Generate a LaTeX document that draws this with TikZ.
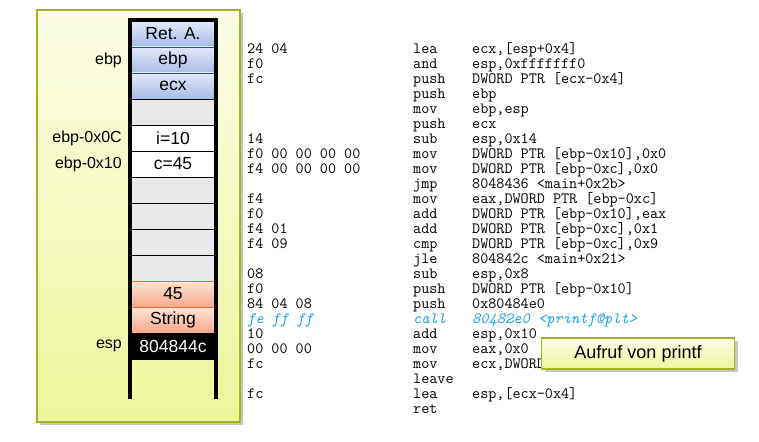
\documentclass[tikz,border=0pt]{standalone}
\usepackage{fontspec}
\setmainfont{Liberation Sans}
\usetikzlibrary{positioning,shadows}

\definecolor{panelline}{RGB}{165,178,35}
\definecolor{paneltop}{RGB}{252,253,230}
\definecolor{panelbot}{RGB}{237,246,155}
\definecolor{stackblue}{RGB}{35,80,140}
\definecolor{bluetop}{RGB}{226,233,249}
\definecolor{bluebot}{RGB}{168,188,232}
\definecolor{stackred}{RGB}{232,112,35}
\definecolor{redtop}{RGB}{253,230,218}
\definecolor{redbot}{RGB}{246,168,138}
\definecolor{freecell}{RGB}{233,233,233}
\definecolor{callblue}{RGB}{30,160,230}

\newcommand{\codefont}{\fontsize{15.7}{15}\selectfont\ttfamily\lineskiplimit -20pt\relax}

\begin{document}
\begin{tikzpicture}[x=1pt,y=-1pt,
	node distance=0pt,
	cell/.style={draw, rectangle, line width=0.8pt, minimum width=86pt, minimum height=26pt, inner sep=0pt, outer sep=0pt, font=\fontsize{17.5}{20}\selectfont},
	bluecell/.style={cell, draw=stackblue, top color=bluetop, bottom color=bluebot},
	graycell/.style={cell, fill=freecell},
	whitecell/.style={cell, fill=white},
	redcell/.style={cell, draw=stackred, top color=redtop, bottom color=redbot},
	blackcell/.style={cell, fill=black, text=white},
	lbl/.style={inner sep=0pt, font=\fontsize{16}{19}\selectfont},
	code/.style={anchor=north west, inner sep=0pt, align=left, font=\codefont}
	]
	
	\useasboundingbox (0,0) rectangle (759,441);
	
	% stack frame background
	\draw[draw=panelline, line width=1.2pt, top color=paneltop, bottom color=panelbot,
	drop shadow={shadow xshift=3pt, shadow yshift=-3pt, opacity=0.45}] (37,10) rectangle (240,422);
	
	\node[bluecell] (ret) at (173,34) {Ret. A.};
	\node[bluecell, below=of ret] (ebp) {ebp};
	\node[bluecell, below=of ebp] (ecx) {ecx};
	\node[graycell, below=of ecx] (g1) {};
	\node[whitecell, below=of g1] (i) {i=10};
	\node[whitecell, below=of i] (c) {c=45};
	\node[graycell, below=of c] (g2) {};
	\node[graycell, below=of g2] (g3) {};
	\node[graycell, below=of g3] (g4) {};
	\node[graycell, below=of g4] (g5) {};
	\node[redcell, below=of g5] (arg) {45};
	\node[redcell, below=of arg] (str) {String};
	\node[blackcell, below=of str] (ra) {804844c};
	
	\draw[line width=4pt] (ret.north west |- 0,399) -- ([yshift=1pt]ret.north west) -- ([yshift=1pt]ret.north east) -- (ret.north east |- 0,399);
	
	\node[lbl, left=8pt of ebp] (lebp) {ebp};
	\node[lbl, left=8pt of i] (li) {ebp-0x0C};
	\node[lbl, left=8pt of c] (lc) {ebp-0x10};
	\node[lbl, left=8pt of ra] (lesp) {esp};
	
	% disassembly
	\node[code] (hex) at (247,41) {\rule{0pt}{12pt}24 04\\ f0\\ fc\\ \mbox{}\\ \mbox{}\\ \mbox{}\\ 14\\ f0 00 00 00 00\\ f4 00 00 00 00\\ \mbox{}\\ f4\\ f0\\ f4 01\\ f4 09\\ \mbox{}\\ 08\\ f0\\ 84 04 08\\ {\itshape\color{callblue}fe ff ff}\\ 10\\ 00 00 00\\ fc\\ \mbox{}\\ fc\\ \mbox{}};
	\node[code] (op) at (413,41) {\rule{0pt}{12pt}lea\\ and\\ push\\ push\\ mov\\ push\\ sub\\ mov\\ mov\\ jmp\\ mov\\ add\\ add\\ cmp\\ jle\\ sub\\ push\\ push\\ {\itshape\color{callblue}call}\\ add\\ mov\\ mov\\ leave\\ lea\\ ret};
	\node[code] (args) at (472,41) {\rule{0pt}{12pt}ecx,[esp+0x4]\\ esp,0xfffffff0\\ DWORD PTR [ecx-0x4]\\ ebp\\ ebp,esp\\ ecx\\ esp,0x14\\ DWORD PTR [ebp-0x10],0x0\\ DWORD PTR [ebp-0xc],0x0\\ 8048436 <main+0x2b>\\ eax,DWORD PTR [ebp-0xc]\\ DWORD PTR [ebp-0x10],eax\\ DWORD PTR [ebp-0xc],0x1\\ DWORD PTR [ebp-0xc],0x9\\ 804842c <main+0x21>\\ esp,0x8\\ DWORD PTR [ebp-0x10]\\ 0x80484e0\\ {\itshape\color{callblue}80482e0 <printf@plt>}\\ esp,0x10\\ eax,0x0\\ ecx,DWORD\\ \mbox{}\\ esp,[ecx-0x4]\\ \mbox{}};
	
	\node[draw=panelline, line width=1.2pt, top color=paneltop, bottom color=panelbot, minimum width=193pt, minimum height=31pt, font=\fontsize{18}{21}\selectfont,
	drop shadow={shadow xshift=3pt, shadow yshift=-3pt, opacity=0.45}] (note) at (638,353.5) {Aufruf von printf};
	
\end{tikzpicture}
\end{document}
